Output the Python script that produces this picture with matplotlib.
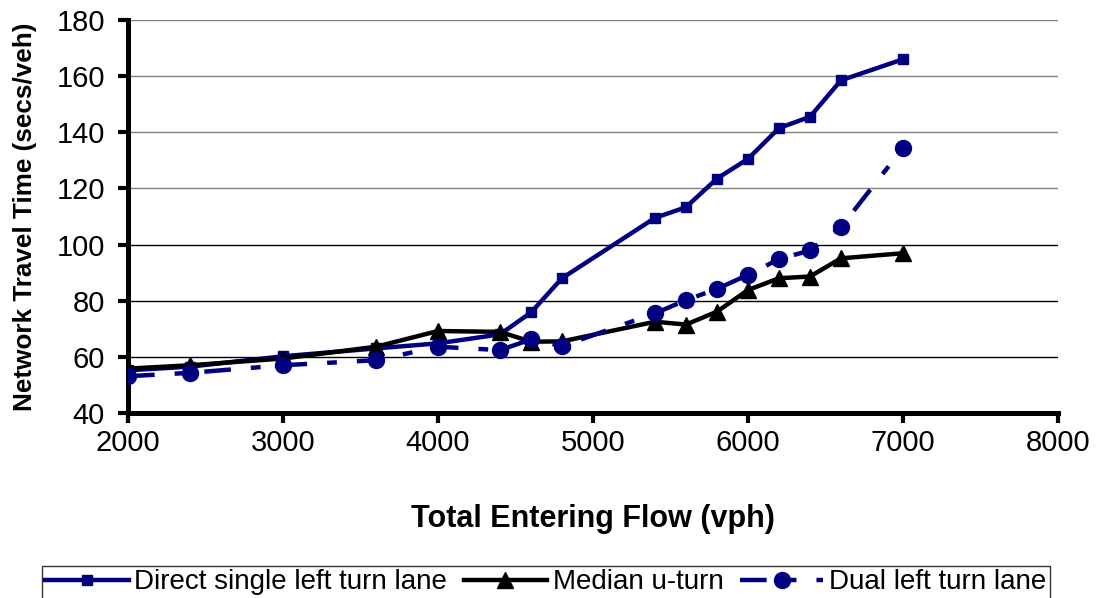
import matplotlib
matplotlib.use('Agg')
from matplotlib import pyplot as plt

# total entering flow (vph) and network travel time (secs/veh) per design
flow = [2000, 2400, 3000, 3600, 4000, 4400, 4600, 4800, 5400, 5600, 5800, 6000, 6200, 6400, 6600, 7000]
direct_single = [55.2, 56.5, 60.2, 63.0, 64.8, 68.0, 75.8, 88.0, 109.5, 113.3, 123.5, 130.5, 141.5, 145.5, 158.5, 166.0]
median_uturn = [55.8, 57.0, 59.4, 63.6, 69.2, 68.9, 65.4, 65.5, 72.5, 71.5, 76.1, 83.8, 88.0, 88.6, 95.1, 96.9]
dual_left = [53.1, 54.3, 57.0, 58.8, 63.6, 62.4, 66.2, 63.8, 75.5, 80.2, 84.2, 89.2, 94.8, 97.9, 106.2, 134.4]

labels = ['Direct single left turn lane', 'Median u-turn', 'Dual left turn lane']
NAVY = '#000080'
FONT = 'Liberation Sans'


def main():
    fig = plt.figure(figsize=(10.96, 5.98), dpi=100)
    ax = fig.add_axes([0.1168, 0.3094, 0.8485, 0.6572])

    ax.plot(flow, direct_single, color=NAVY, lw=3.2, marker='s', ms=7, label=labels[0], zorder=3)
    ax.plot(flow, median_uturn, color='black', lw=3.2, marker='^', ms=11.5, label=labels[1], zorder=4)
    ax.plot(flow, dual_left, color=NAVY, lw=3.2, marker='o', ms=11.5, label=labels[2], zorder=5,
            dashes=[6, 4.5, 2.2, 4.5])

    ax.set_xlim(2000, 8000)
    ax.set_ylim(40, 180)
    ax.set_xticks(range(2000, 8001, 1000))
    ax.set_yticks(range(40, 181, 20))

    ax.grid(axis='y', color='black', lw=1.0)
    for gl, v in zip(ax.get_ygridlines(), range(40, 181, 20)):
        if v >= 120:
            gl.set_color('#808080')
    ax.set_axisbelow(True)

    for side in ('top', 'right'):
        ax.spines[side].set_visible(False)
    for side in ('left', 'bottom'):
        ax.spines[side].set_linewidth(3.6)
        ax.spines[side].set_capstyle('projecting')
    ax.tick_params(axis='both', width=3, length=7.5, labelsize=21, direction='out')
    ax.tick_params(axis='x', pad=4)
    ax.tick_params(axis='y', pad=9)
    for lab in ax.get_xticklabels() + ax.get_yticklabels():
        lab.set_fontfamily(FONT)

    ax.set_xlabel('Total Entering Flow (vph)', fontsize=22, fontweight='bold', family=FONT, labelpad=34)
    ax.set_ylabel('Network Travel Time (secs/veh)', fontsize=18.8, fontweight='bold', family=FONT, labelpad=14)

    leg = fig.legend(loc='upper left', bbox_to_anchor=(42 / 1096, 1 - 566 / 598), ncol=3,
                     prop={'family': FONT, 'size': 20}, frameon=True, fancybox=False,
                     edgecolor='black', handlelength=3.0, handletextpad=0.2, columnspacing=0.6,
                     borderpad=0.12, borderaxespad=0)
    leg.get_frame().set_linewidth(1)

    fig.savefig('out.png', dpi=100)


if __name__ == '__main__':
    main()
